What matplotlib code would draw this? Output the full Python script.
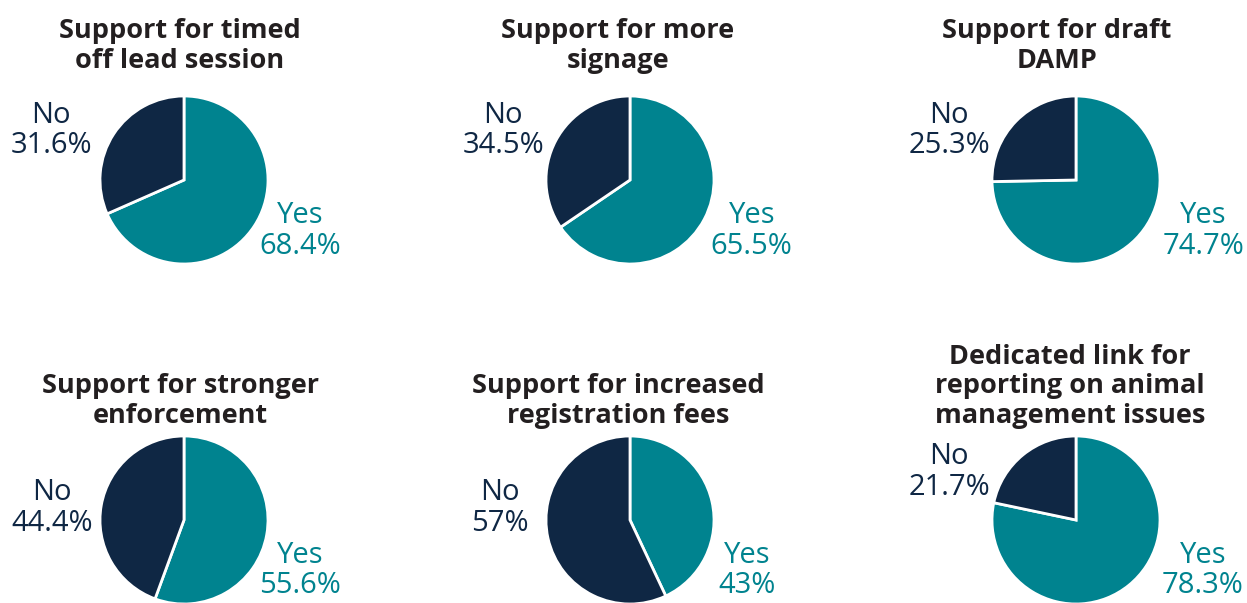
import matplotlib
matplotlib.use('Agg')
import matplotlib.pyplot as plt

plt.rcParams['font.family'] = ['Open Sans', 'DejaVu Sans']

#%% data
titles = ['Support for timed\noff lead session',
          'Support for more\nsignage',
          'Support for draft\nDAMP',
          'Support for stronger\nenforcement',
          'Support for increased\nregistration fees',
          'Dedicated link for\nreporting on animal\nmanagement issues']
yes_vals = [68.4, 65.5, 74.7, 55.6, 43.0, 78.3]
no_vals = [31.6, 34.5, 25.3, 44.4, 57.0, 21.7]
yes_text = ['68.4%', '65.5%', '74.7%', '55.6%', '43%', '78.3%']
no_text = ['31.6%', '34.5%', '25.3%', '44.4%', '57%', '21.7%']

teal = '#00838F'
navy = '#0F2744'
dark = '#231F20'

#%% layout (pixels)
W, H = 1247, 603
R = 84
centres = [(184, 180), (630, 180), (1076, 180),
           (184, 520), (630, 520), (1076, 520)]
title_x = [180, 618, 1057, 180, 618, 1070]
title_bottom = [74, 74, 74, 429, 429, 429]
# label centres relative to pie centre, in radius units
no_pos = [(-1.58, 0.59), (-1.51, 0.59), (-1.51, 0.59),
          (-1.57, 0.14), (-1.55, 0.14), (-1.51, 0.57)]
yes_pos = [(1.38, -0.61), (1.45, -0.61), (1.52, -0.61),
           (1.38, -0.60), (1.39, -0.60), (1.51, -0.60)]

fig = plt.figure(figsize=(W / 100, H / 100), dpi=100)

for i in range(6):
    cx, cy = centres[i]
    ax = fig.add_axes([(cx - R) / W, 1 - (cy + R) / H, 2 * R / W, 2 * R / H])
    ax.pie([yes_vals[i], no_vals[i]], colors=[teal, navy], startangle=90,
           counterclock=False, radius=1,
           wedgeprops=dict(edgecolor='white', linewidth=2))
    ax.set_xlim(-1, 1)
    ax.set_ylim(-1, 1)
    ax.set_aspect('equal')
    ax.text(no_pos[i][0], no_pos[i][1], 'No\n' + no_text[i], color=navy,
            fontsize=21, ha='center', va='center', linespacing=1.08, clip_on=False)
    ax.text(yes_pos[i][0], yes_pos[i][1], 'Yes\n' + yes_text[i], color=teal,
            fontsize=21, ha='center', va='center', linespacing=1.08, clip_on=False)
    fig.text(title_x[i] / W, 1 - title_bottom[i] / H, titles[i], color=dark,
             fontsize=19.5, fontweight='bold', ha='center', va='bottom',
             linespacing=1.18)

fig.savefig('out.png', dpi=100)
